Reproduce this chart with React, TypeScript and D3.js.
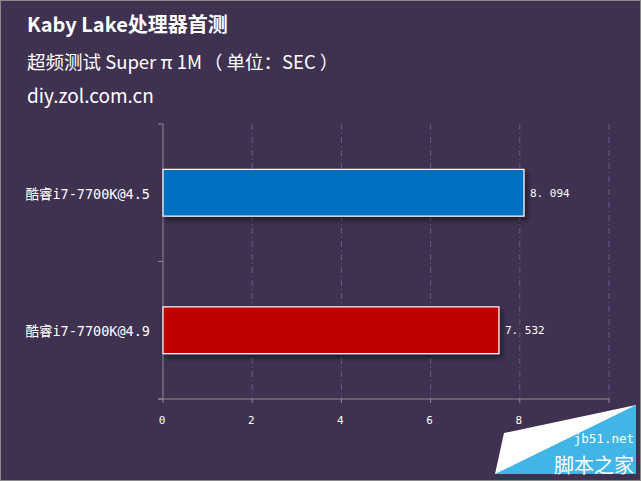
import * as d3 from "d3";

// Super π 1M times (seconds), lower = faster
const categories = ["酷睿i7-7700K@4.5", "酷睿i7-7700K@4.9"];
const values = [8.094, 7.532];
const barColors = ["#0070c0", "#c00000"];
const xTicks = [0, 2, 4, 6, 8, 10];

const W = 641;
const H = 481;
const M = { left: 163, right: 32, top: 124, bottom: 82 };
const BG = "#3f3150";

const x = d3.scaleLinear().domain([0, 10]).range([M.left, W - M.right]);
const y = d3.scaleBand<string>().domain(categories).range([M.top, H - M.bottom]).paddingInner(0.66).paddingOuter(0.33);

const sans = "'Noto Sans CJK SC', 'Open Sans', sans-serif";
const mono = "'DejaVu Sans Mono', 'Noto Sans CJK SC', monospace";

export default function App() {
  const y0 = H - M.bottom;
  return (
    <svg width={W} height={H} viewBox={`0 0 ${W} ${H}`} style={{ display: "block", position: "absolute", left: 0, top: 0 }}>
      <defs>
        <filter id="sh" x="-10%" y="-20%" width="130%" height="160%">
          <feDropShadow dx={3} dy={4} stdDeviation={2.5} floodColor="#000" floodOpacity={0.45} />
        </filter>
      </defs>
      <rect x={0.5} y={0.5} width={W - 1} height={H - 1} fill={BG} stroke="#8a8a8a" />

      <text x={27} y={32} fill="#fff" fontFamily={sans} fontSize={20} fontWeight={700}>
        Kaby Lake处理器首测
      </text>
      <text x={27} y={69} fill="#fff" fontFamily={sans} fontSize={18.5}>
        超频测试 Super π 1M<tspan dx={2}>（</tspan><tspan dx={4}>单位：SEC</tspan><tspan dx={4}>）</tspan>
      </text>
      <text x={27} y={103} fill="#fff" fontFamily={sans} fontSize={19}>
        diy.zol.com.cn
      </text>

      {/* dash-dot gridlines */}
      {xTicks.slice(1).map((t) => (
        <line key={t} x1={x(t)} x2={x(t)} y1={M.top} y2={y0} stroke="#6c5a8c" strokeWidth={1} strokeDasharray="6 3 1 3" />
      ))}

      {/* axes */}
      <line x1={M.left} x2={M.left} y1={M.top} y2={y0} stroke="#8c8c8c" />
      <line x1={M.left - 5} x2={W - M.right} y1={y0} y2={y0} stroke="#8c8c8c" />
      {[0, 1, 2].map((i) => (
        <line key={i} x1={M.left - 5} x2={M.left} y1={M.top + (i * (y0 - M.top)) / 2} y2={M.top + (i * (y0 - M.top)) / 2} stroke="#8c8c8c" />
      ))}
      {xTicks.map((t) => (
        <g key={t}>
          <line x1={x(t)} x2={x(t)} y1={y0} y2={y0 + 4} stroke="#8c8c8c" />
          <text x={x(t) - 1} y={y0 + 25} fill="#fff" fontFamily={mono} fontSize={11} textAnchor="middle">
            {t === 10 ? "" : t}
          </text>
        </g>
      ))}

      {/* bars */}
      {categories.map((c, i) => {
        const by = y(c)!;
        const bh = y.bandwidth();
        return (
          <g key={c}>
            <rect x={x(0)} y={by} width={x(values[i]) - x(0)} height={bh} fill={barColors[i]} stroke="#fff" strokeWidth={1.2} filter="url(#sh)" />
            <text x={x(values[i]) + 6} y={by + bh / 2 + 4} fill="#fff" fontFamily={mono} fontSize={11}>
              {values[i].toFixed(3).replace(".", ". ")}
            </text>
            <text x={M.left - 13} y={by + bh / 2 + 6} fill="#fff" fontFamily={mono} fontSize={13.5} textAnchor="end">
              {c}
            </text>
          </g>
        );
      })}

      {/* watermark */}
      <polygon points="504,433 636,405 636,474 495,474" fill="#fff" />
      <polygon points="495,474 636,405 636,474" fill="#41b6e6" />
      <text x={634} y={443} fill="#fff" fontFamily={mono} fontSize={12.5} textAnchor="end">jb51.net</text>
      <text x={634} y={473} fill="#fff" fontFamily={sans} fontSize={20} textAnchor="end">脚本之家</text>
    </svg>
  );
}
